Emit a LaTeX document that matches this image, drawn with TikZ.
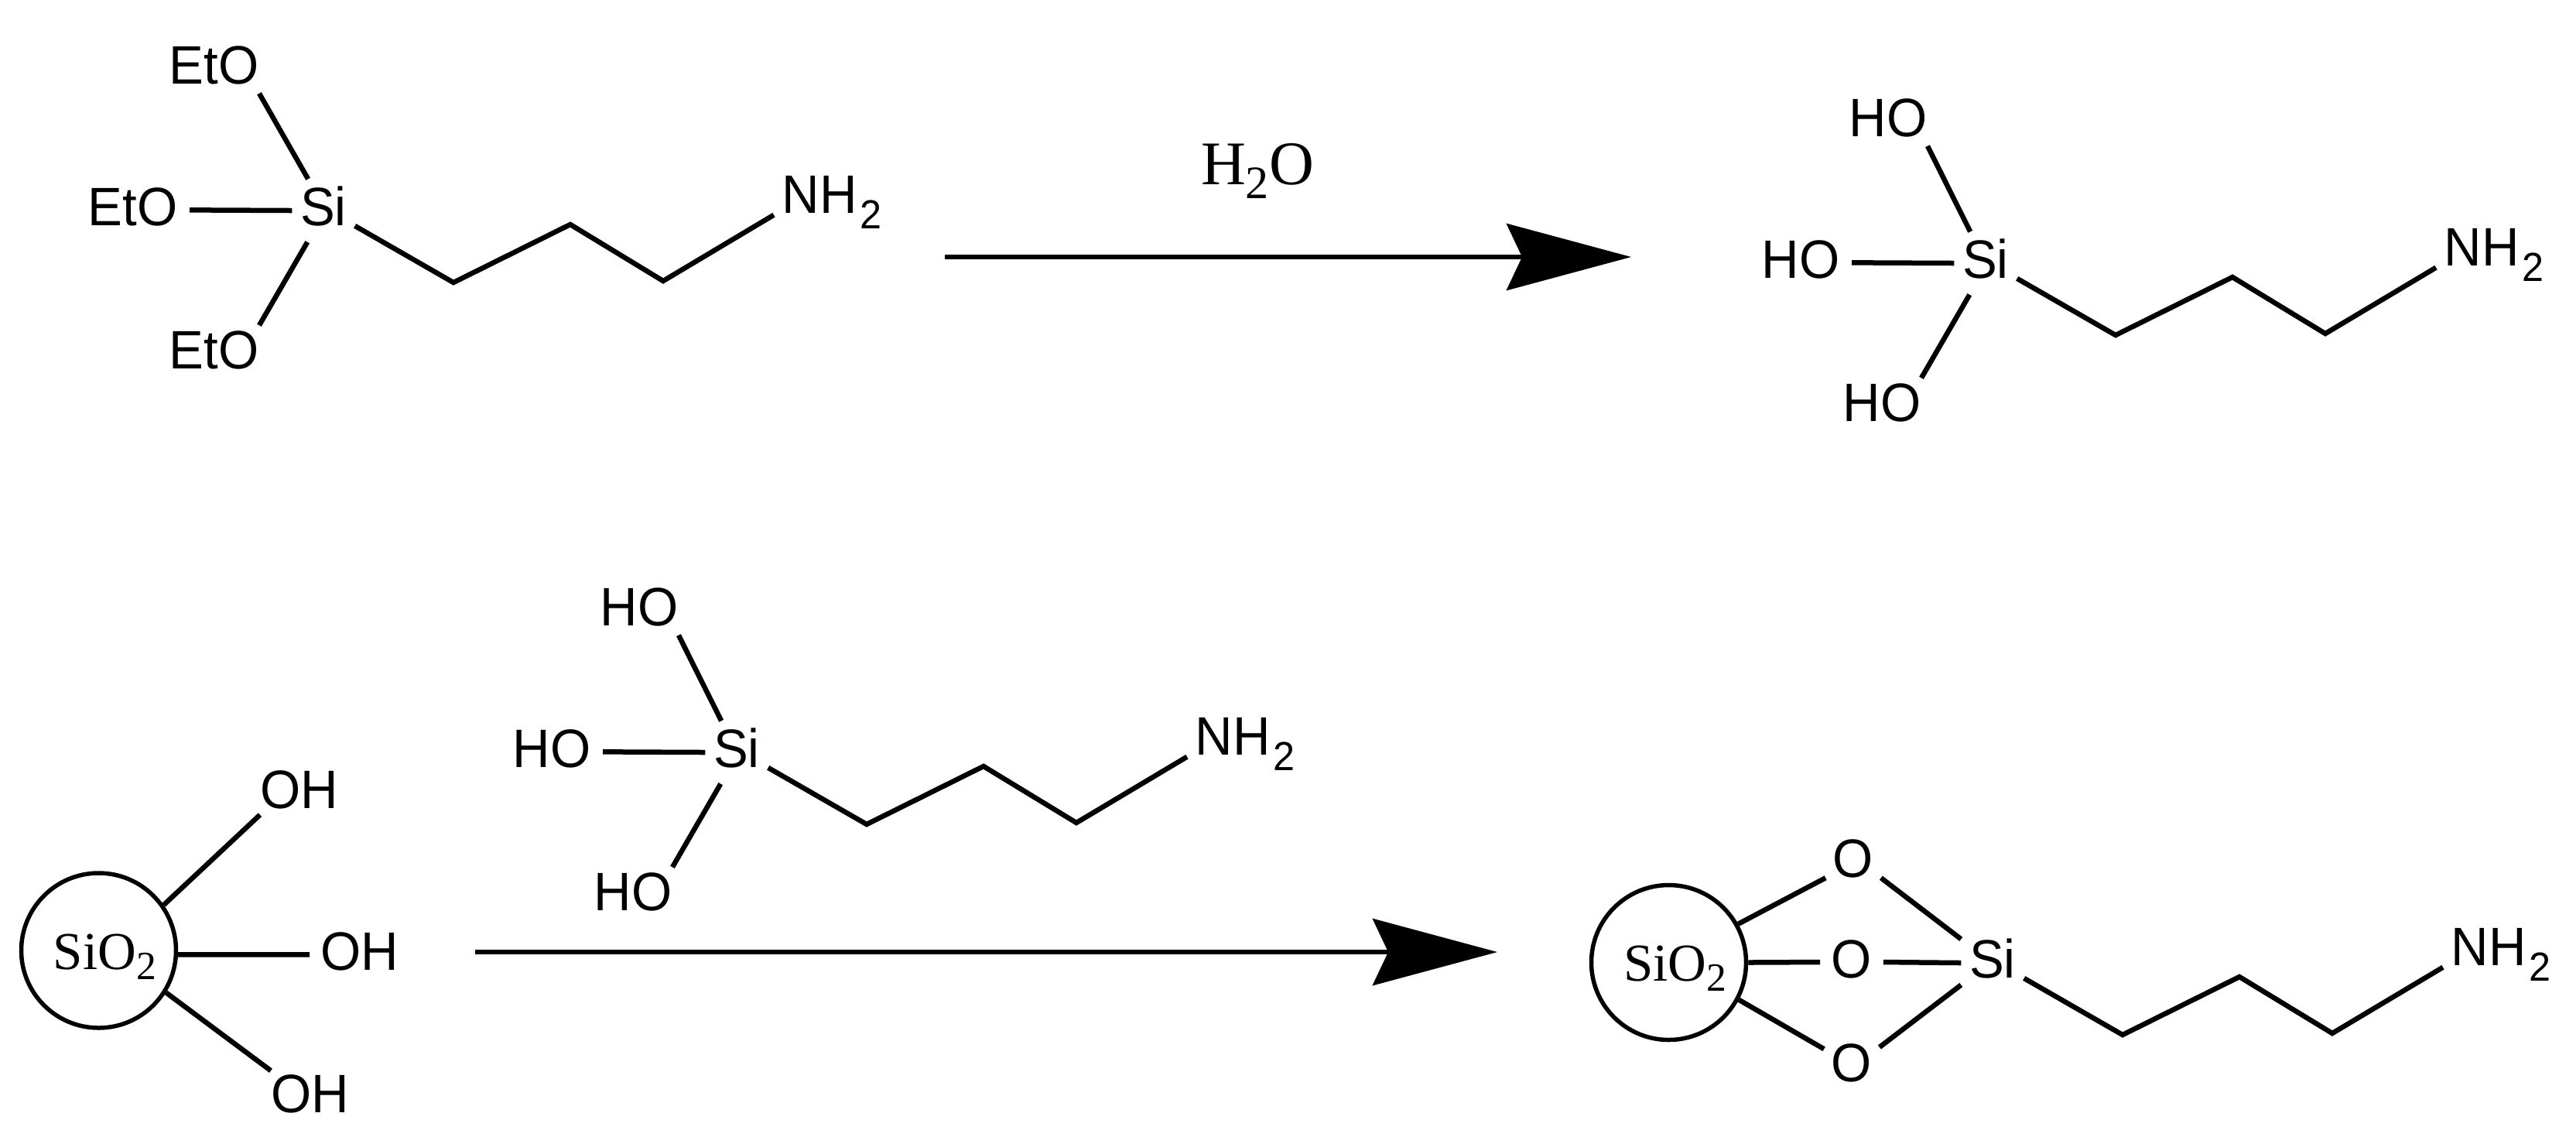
\documentclass[tikz,border=0pt]{standalone}
\usepackage{fontspec}
\setmainfont{Liberation Serif}
\setsansfont{Liberation Sans}[FakeStretch=0.96]
\usetikzlibrary{arrows.meta}

\newcommand{\subtwo}[1]{\raisebox{#1}{\scalebox{0.75}{2}}}

\tikzset{
  bond/.style={line width=.065cm},
  react/.style={line width=.065cm,-{Stealth[length=1.61cm,width=.86cm,inset=.2cm]}},
  atom/.style={inner sep=0pt,font=\sffamily\fontsize{19.9}{24}\selectfont},
  si node/.style={atom,text height=.59cm,text depth=.21cm,minimum width=.8cm,anchor=base},
  ring/.style={circle,draw,line width=.055cm,minimum size=2cm,inner sep=0pt,
               text height=.6cm,text depth=.12cm,font=\fontsize{19.6}{24}\selectfont},
  pics/chain/.style={code={
    \node[si node] (si) at (0,.25) {Si};
    \coordinate (c1) at (1.68,.99);
    \coordinate (c2) at (3.19,.24);
    \coordinate (c3) at (4.39,.97);
    \node[atom,inner xsep=.1cm,text depth=.02cm,anchor=base west] (nh) at (5.82,.09) {NH\kern.04cm\subtwo{-.2cm}};
    \draw[bond] (si.-26) -- (c1) -- (c2) -- (c3) -- (nh.south west);
  }},
  pics/silane/.style n args={2}{code={
    \pic {chain};
    \node[atom,text depth=.12cm,anchor=base east] (up) at (#2,-1.58) {#1};
    \node[atom,inner xsep=.15cm,text height=.4cm,anchor=base east] (mid) at (-1.73,.25) {#1};
    \node[atom,text height=.55cm,anchor=base east] (low) at (-.83,2.10) {#1};
    \path[bond]
      (up.south east) edge (si.116.6)
      (mid.east) edge (si.west)
      (low.north east) edge (si.243.4);
  }}
}

\begin{document}
\begin{tikzpicture}[y=-1cm]
  \useasboundingbox (0,0) rectangle (33.29,14.68);

  % first reaction
  \pic (eto) at (4.18,2.66) {silane={EtO}{-.83}};
  \pic (hyd) at (25.66,3.34) {silane={HO}{-.75}};
  \coordinate (a1) at (12.21,3.32);
  \coordinate (b1) at (21.08,3.32);
  \draw[react] (a1) -- (b1);
  \node[inner sep=0pt,anchor=base,font=\fontsize{22.8}{26}\selectfont] (water) at (16.25,2.38) {H\subtwo{-.18cm}O};

  % second reaction
  \node[ring] (core) at (1.275,12.28) {\hspace{.16cm}SiO\subtwo{-.13cm}};
  \node[atom,text depth=.08cm,anchor=base west] (oh1) at (3.36,10.44) {OH};
  \node[atom,inner xsep=.14cm,text height=.4cm,anchor=base west] (oh2) at (4.00,12.53) {OH};
  \node[atom,text height=.53cm,anchor=base west] (oh3) at (3.50,14.37) {OH};
  \path[bond]
    (core.35) edge (oh1.south west)
    (core.-3) edge (oh2.west)
    (core.-32) edge (oh3.north west);

  \pic (mix) at (9.52,9.66) {silane={HO}{-.75}};
  \coordinate (a2) at (6.14,12.30);
  \coordinate (b2) at (19.35,12.30);
  \draw[react] (a2) -- (b2);

  % grafted product
  \node[ring] (grain) at (21.565,12.435) {\hspace{.16cm}SiO\subtwo{-.13cm}};
  \pic (graft) at (25.75,12.38) {chain};
  \node[atom,inner xsep=.09cm,text height=.51cm,text depth=0pt] (o1) at (23.95,11.08) {O};
  \node[atom,inner xsep=.14cm,text height=.51cm,text depth=0pt] (o2) at (23.93,12.38) {O};
  \node[atom,inner xsep=.09cm,text height=.51cm,text depth=0pt] (o3) at (23.93,13.72) {O};
  \path[bond]
    (grain.29) edge (o1.south west)
    (grain.east) edge (o2.187)
    (grain.-28) edge (o3.155)
    (o1.south east) edge (graftsi.143)
    (o2.-7) edge (graftsi.west)
    (o3.28) edge (graftsi.215);
\end{tikzpicture}
\end{document}
